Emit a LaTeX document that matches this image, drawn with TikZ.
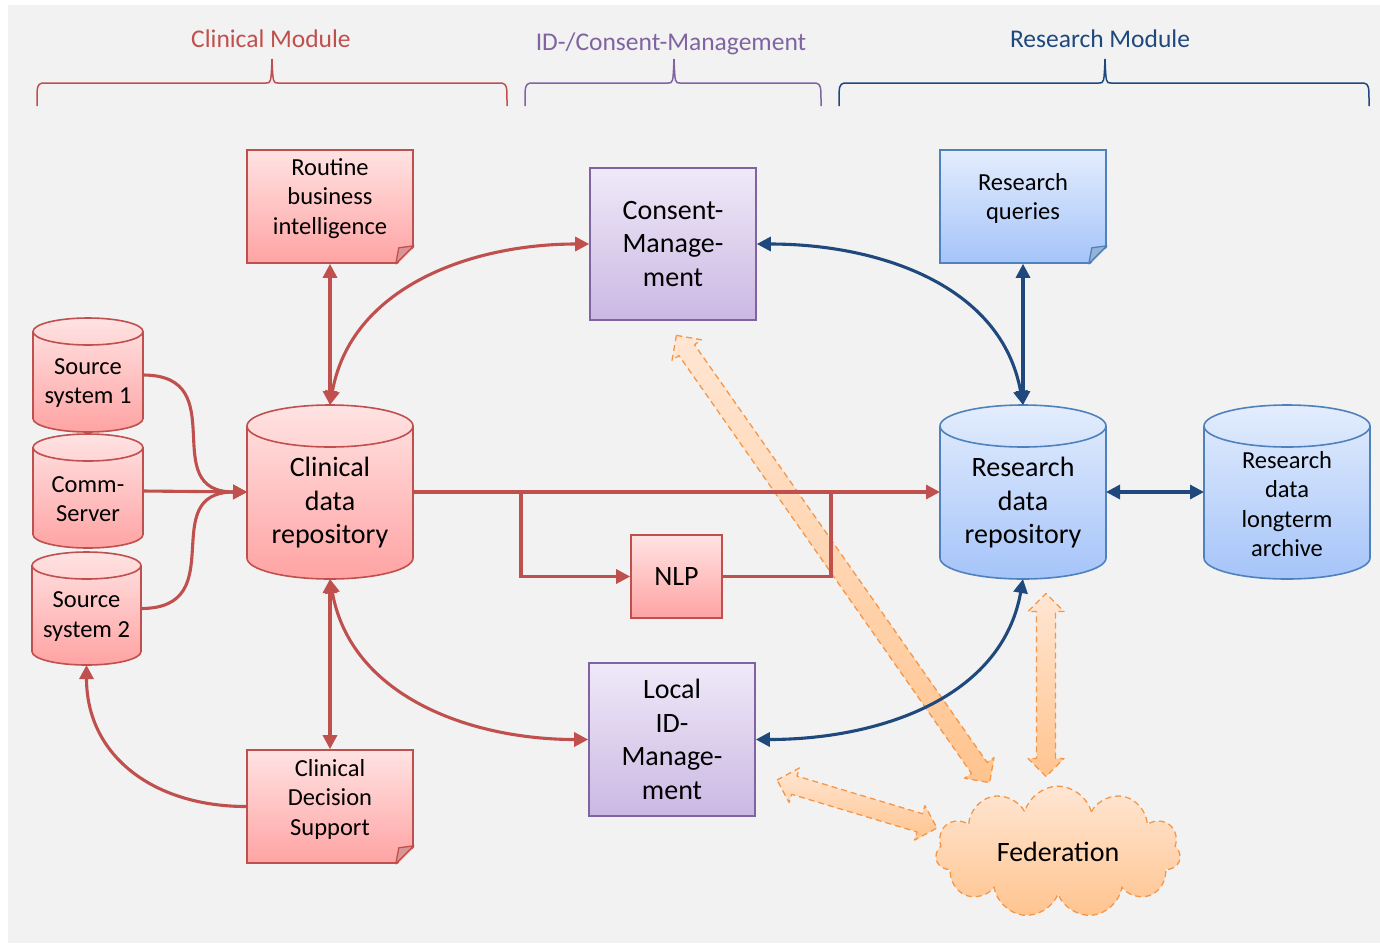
\documentclass[tikz,border=0pt]{standalone}
\usepackage{fontspec}
\setmainfont{Carlito}
\usepackage{xcolor}
\usepackage{tikz}
\usetikzlibrary{arrows.meta, shapes.symbols}
\definecolor{bggray}{HTML}{F2F2F2}
\definecolor{clinred}{HTML}{C0504D}
\definecolor{redtop}{HTML}{FFE3E3}
\definecolor{redbot}{HTML}{FFA3A3}
\definecolor{redfold}{HTML}{D99594}
\definecolor{resblue}{HTML}{4F81BD}
\definecolor{resdark}{HTML}{1F497D}
\definecolor{bluetop}{HTML}{E3EDFD}
\definecolor{bluebot}{HTML}{A5C4F9}
\definecolor{bluefold}{HTML}{95B3D7}
\definecolor{idpurple}{HTML}{8064A2}
\definecolor{purptop}{HTML}{EFE9F8}
\definecolor{purpbot}{HTML}{CBB8E3}
\definecolor{fedorange}{HTML}{F79646}
\definecolor{fedtop}{HTML}{FFE6D3}
\definecolor{fedbot}{HTML}{FFC48F}

\tikzset{
  bigtext/.style={font=\fontsize{28}{33.5}\selectfont, align=center},
  midtext/.style={font=\fontsize{24.5}{29.5}\selectfont, align=center},
  headtext/.style={font=\fontsize{25.5}{30}\selectfont},
  redbox/.style={rectangle, draw=clinred, line width=1.6pt, top color=redtop, bottom color=redbot, inner sep=0pt},
  bluebox/.style={rectangle, draw=resblue, line width=1.6pt, top color=bluetop, bottom color=bluebot, inner sep=0pt},
  purplebox/.style={rectangle, draw=idpurple, line width=1.6pt, top color=purptop, bottom color=purpbot, inner sep=0pt, bigtext},
  dbnode/.style={rectangle, inner sep=0pt, outer sep=0pt},
  redarr/.style={draw=clinred, line width=3.1pt, >={Triangle[length=14pt,width=14pt]}},
  bluearr/.style={draw=resdark, line width=3.1pt, >={Triangle[length=14pt,width=14pt]}},
  fedline/.style={draw=fedorange, line width=1.3pt, dash pattern=on 6pt off 4pt, line join=round,
    top color=fedtop, bottom color=fedbot},
  brace/.style={line width=1.5pt}
}

% paper corner of the note boxes
\newcommand{\dogear}[3]{%
  \fill[bggray] ([xshift=2pt,yshift=-2pt]#1.south east) -- ([xshift=-18pt,yshift=-2pt]#1.south east)
    -- ([xshift=2pt,yshift=18pt]#1.south east) -- cycle;
  \filldraw[fill=#2, draw=#3, line width=1.3pt, line join=round] ([xshift=-18pt]#1.south east)
    -- ([yshift=18pt]#1.south east) -- ([xshift=-15pt,yshift=16pt]#1.south east) -- cycle;
}
% database drum round a node: node, x radius, y radius, border, top, bottom
\newcommand{\dbshape}[6]{%
  \draw[#4, line width=1.6pt, top color=#5, bottom color=#6]
    ([yshift=-#3pt]#1.north west) -- ([yshift=#3pt]#1.south west)
    arc[start angle=180, end angle=360, x radius=#2pt, y radius=#3pt]
    -- ([yshift=-#3pt]#1.north east)
    arc[start angle=0, end angle=180, x radius=#2pt, y radius=#3pt] -- cycle;
  \draw[#4, line width=1.6pt] ([yshift=-#3pt]#1.north west)
    arc[start angle=180, end angle=360, x radius=#2pt, y radius=#3pt];
}
% wide dashed double arrow: centre x, centre y, angle, length
\newcommand{\fedarrow}[4]{%
  \begin{scope}[shift={(#1,#2)}, rotate=#3]
    \draw[fedline] (-#4/2,0) -- (-#4/2+18,18) -- (-#4/2+18,9.5) -- (#4/2-18,9.5) -- (#4/2-18,18)
      -- (#4/2,0) -- (#4/2-18,-18) -- (#4/2-18,-9.5) -- (-#4/2+18,-9.5) -- (-#4/2+18,-18) -- cycle;
  \end{scope}}

\begin{document}
\begin{tikzpicture}[x=1pt, y=1pt]
  \useasboundingbox (0,0) rectangle (1380,-943);
  \fill[bggray] (8,-5) rectangle (1380,-943);

  % module headings
  \node[headtext, text=clinred] (clinhead) at (271,-39) {Clinical Module};
  \node[headtext, text=idpurple] (idhead) at (671,-44) {ID-/Consent-Management};
  \node[headtext, text=resdark] (reshead) at (1100,-39) {Research Module};
  \draw[brace, clinred] (37,-106) .. controls (37,-85) .. (42,-83) -- (266,-83)
    .. controls (271,-83) .. (272,-59) .. controls (273,-83) .. (278,-83) -- (502,-83) .. controls (507,-85) .. (507,-106);
  \draw[brace, idpurple] (525,-106) .. controls (525,-85) .. (530,-83) -- (668,-83)
    .. controls (673,-83) .. (674,-59) .. controls (675,-83) .. (680,-83) -- (816,-83) .. controls (821,-85) .. (821,-106);
  \draw[brace, resdark] (839,-106) .. controls (839,-85) .. (844,-83) -- (1099,-83)
    .. controls (1104,-83) .. (1105,-59) .. controls (1106,-83) .. (1111,-83) -- (1364,-83) .. controls (1369,-85) .. (1369,-106);

  % clinical module
  \node[redbox, minimum width=166, minimum height=113] (rbi) at (330,-206.5) {};
  \dogear{rbi}{redfold}{clinred}
  \node[midtext] (rbitext) at (330,-198.5) {Routine\\business\\intelligence};
  \node[dbnode, minimum width=110, minimum height=114] (ss1) at (88,-375) {};
  \dbshape{ss1}{55}{13.5}{clinred}{redtop}{redbot}
  \node[midtext] (ss1text) at (88,-383) {Source\\system 1};
  \node[dbnode, minimum width=110, minimum height=114] (comm) at (88,-491) {};
  \dbshape{comm}{55}{13.5}{clinred}{redtop}{redbot}
  \node[midtext] (commtext) at (88,-499) {Comm-\\Server};
  \node[dbnode, minimum width=109, minimum height=113] (ss2) at (86.5,-608.5) {};
  \dbshape{ss2}{54.5}{13.5}{clinred}{redtop}{redbot}
  \node[midtext] (ss2text) at (86.5,-616.5) {Source\\system 2};
  \node[dbnode, minimum width=166, minimum height=174] (cdr) at (330,-492) {};
  \dbshape{cdr}{83}{21}{clinred}{redtop}{redbot}
  \node[bigtext] (cdrtext) at (330,-503) {Clinical\\data\\repository};
  \node[redbox, bigtext, minimum width=91, minimum height=83] (nlp) at (676.5,-576.5) {NLP};
  \node[redbox, minimum width=166, minimum height=113] (cds) at (330,-806.5) {};
  \dogear{cds}{redfold}{clinred}
  \node[midtext] (cdstext) at (330,-799) {Clinical\\Decision\\Support};

  % id and consent management
  \node[purplebox, minimum width=166, minimum height=152] (consent) at (673,-244) {Consent-\\Manage-\\ment};
  \node[purplebox, minimum width=166, minimum height=153] (localid) at (672,-739.5) {Local\\ID-\\Manage-\\ment};

  % research module
  \node[bluebox, minimum width=166, minimum height=113] (rq) at (1023,-206.5) {};
  \dogear{rq}{bluefold}{resblue}
  \node[midtext] (rqtext) at (1023,-198.5) {Research\\queries};
  \node[dbnode, minimum width=166, minimum height=174] (rdr) at (1023,-492) {};
  \dbshape{rdr}{83}{21}{resblue}{bluetop}{bluebot}
  \node[bigtext] (rdrtext) at (1023,-503) {Research\\data\\repository};
  \node[dbnode, minimum width=166, minimum height=174] (archive) at (1287,-492) {};
  \dbshape{archive}{83}{21}{resblue}{bluetop}{bluebot}
  \node[midtext] (archivetext) at (1287,-504) {Research\\data\\longterm\\archive};

  % federation
  \node[cloud, cloud puffs=11, aspect=1.9, draw=fedorange, line width=1.3pt, dash pattern=on 6pt off 4pt,
    top color=fedtop, bottom color=fedbot, minimum width=245, minimum height=130, bigtext] (fed) at (1058,-852) {Federation};
  \fedarrow{833}{-559}{-55}{546}
  \fedarrow{1046}{-685}{90}{183}
  \fedarrow{857}{-804}{-16.7}{167}

  % connectors
  \coordinate (split) at (521,-492);
  \coordinate (merge) at (831,-492);
  \draw[redarr, ->] (ss1.east) to[out=0, in=180, looseness=1.5] (cdr.west);
  \draw[redarr, ->] (comm.east) -- (cdr.west);
  \draw[redarr, ->] (ss2.east) to[out=0, in=180, looseness=1.5] (cdr.west);
  \draw[redarr, ->] (cds.west) to[out=180, in=-90, looseness=1.1] (ss2.south);
  \draw[redarr, <->] (cdr.north) -- (rbi.south);
  \draw[redarr, <->] (cdr.south) -- (cds.north);
  \draw[redarr, <->] (cdr.north) to[out=80, in=180] (consent.west);
  \draw[redarr, <->] (cdr.south) to[out=-80, in=180] (localid.west);
  \draw[redarr, ->] (cdr.east) -- (rdr.west);
  \draw[redarr, ->] (split) |- (nlp.west);
  \draw[redarr] (nlp.east) -| (merge);
  \draw[bluearr, <->] (consent.east) to[out=0, in=100] (rdr.north);
  \draw[bluearr, <->] (localid.east) to[out=0, in=-100] (rdr.south);
  \draw[bluearr, <->] (rq.south) -- (rdr.north);
  \draw[bluearr, <->] (rdr.east) -- (archive.west);
\end{tikzpicture}
\end{document}
